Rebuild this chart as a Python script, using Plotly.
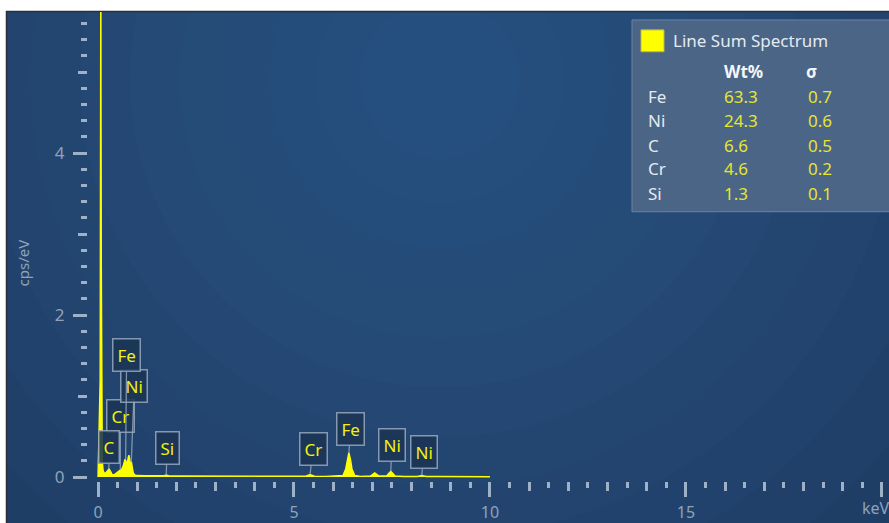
import plotly.graph_objects as go

# ---- spectrum (energy in keV, intensity in cps/eV) ----
energy_kev = [0.00, 0.02, 0.04, 0.055, 0.065, 0.072, 0.078, 0.085, 0.095, 0.11, 0.13, 0.16, 0.20, 0.24,
              0.28, 0.32, 0.36, 0.42, 0.48, 0.53, 0.57, 0.61, 0.65, 0.69, 0.71, 0.74, 0.77,
              0.79, 0.81, 0.83, 0.85, 0.87, 0.90, 0.94, 1.00, 1.20, 1.50, 1.66, 1.74, 1.82,
              2.00, 2.50, 3.00, 3.50, 4.00, 4.50, 5.00, 5.30, 5.41, 5.52, 5.80, 5.95, 6.10,
              6.25, 6.32, 6.36, 6.40, 6.44, 6.48, 6.55, 6.70, 6.95, 7.06, 7.17, 7.36, 7.47,
              7.58, 7.80, 8.15, 8.26, 8.37, 8.70, 9.20, 9.60, 10.00]
intensity_cps = [0.00, 0.45, 0.55, 1.20, 4.30, 6.50, 4.30, 2.60, 0.55, 0.20, 0.08, 0.05, 0.05, 0.08,
                 0.10, 0.07, 0.03, 0.03, 0.05, 0.07, 0.09, 0.10, 0.15, 0.22, 0.20, 0.14, 0.24,
                 0.27, 0.22, 0.12, 0.19, 0.10, 0.05, 0.025, 0.018, 0.015, 0.013, 0.015, 0.025, 0.014,
                 0.013, 0.012, 0.011, 0.010, 0.010, 0.009, 0.009, 0.010, 0.030, 0.010, 0.008, 0.012, 0.008,
                 0.020, 0.10, 0.22, 0.30, 0.22, 0.10, 0.020, 0.008, 0.012, 0.050, 0.012, 0.012, 0.070,
                 0.012, 0.007, 0.007, 0.020, 0.007, 0.006, 0.005, 0.004, 0.003]

# ---- peak labels: element, line energy (keV), intensity at the tip ----
peak_elements = ["Cr", "C", "Ni", "Fe", "Si", "Cr", "Fe", "Ni", "Ni"]
peak_energy = [0.57, 0.277, 0.85, 0.705, 1.74, 5.41, 6.40, 7.47, 8.26]
peak_tip = [0.09, 0.10, 0.19, 0.22, 0.025, 0.030, 0.30, 0.070, 0.020]
# box offsets from the tip, in pixels
label_dx = [0, 0, 3, 1, 1, 3, 2, 1, 2]
label_dy = [-54, -22, -76, -104, -27, -26, -24, -26, -23]

# ---- quantification table ----
table_elements = ["Fe", "Ni", "C", "Cr", "Si"]
table_wt = ["63.3", "24.3", "6.6", "4.6", "1.3"]
table_sigma = ["0.7", "0.6", "0.5", "0.2", "0.1"]

W_FIG, H_FIG = 889, 523
L, R, T, B = 88, 889, 12, 484


def px(x):
    return (x - L) / (R - L)


def py(y):
    return (B - y) / (B - T)


PANEL = "#1e3c63"
TICK = "#9fb1c6"
LABEL = "#8ea3bb"
FONT = "Noto Sans"

fig = go.Figure()

fig.add_trace(go.Scatter(
    x=energy_kev, y=intensity_cps, mode="lines",
    line=dict(color="#ffff00", width=1.4),
    fill="tozeroy", fillcolor="#ffff00", hoverinfo="skip", showlegend=False,
))
# invisible helper traces so the secondary tick axes are drawn
fig.add_trace(go.Scatter(x=[0], y=[0], xaxis="x2", yaxis="y2", mode="markers",
                         marker=dict(opacity=0), hoverinfo="skip", showlegend=False))

shapes = []
# radial glow on the panel
cx, cy = 440, 80
radii = [640, 580, 520, 460, 410, 360, 310, 260, 215, 170, 125, 80]
for r in radii:
    shapes.append(dict(type="circle", xref="paper", yref="paper", layer="below",
                       x0=px(cx - r), x1=px(cx + r), y0=py(cy + r), y1=py(cy - r),
                       fillcolor="rgba(62,116,168,0.055)", line=dict(width=0)))
# white frame outside the panel
shapes.append(dict(type="rect", xref="paper", yref="paper", layer="below",
                   x0=px(-5), x1=px(900), y0=py(11), y1=py(-5),
                   fillcolor="white", line=dict(width=0)))
shapes.append(dict(type="rect", xref="paper", yref="paper", layer="below",
                   x0=px(-5), x1=px(6), y0=py(530), y1=py(-5),
                   fillcolor="white", line=dict(width=0)))
shapes.append(dict(type="line", xref="paper", yref="paper", layer="below",
                   x0=px(6), x1=px(900), y0=py(11.5), y1=py(11.5),
                   line=dict(color="#2b2f36", width=1.5)))
shapes.append(dict(type="line", xref="paper", yref="paper", layer="below",
                   x0=px(6.5), x1=px(6.5), y0=py(11), y1=py(530),
                   line=dict(color="#2b2f36", width=1.5)))
# quantification box
shapes.append(dict(type="rect", xref="paper", yref="paper", layer="below",
                   x0=px(632), x1=px(900), y0=py(213), y1=py(20),
                   fillcolor="#4a6586", line=dict(color="#6a84a2", width=1)))
shapes.append(dict(type="rect", xref="paper", yref="paper", layer="below",
                   x0=px(641), x1=px(664), y0=py(52), y1=py(30),
                   fillcolor="#ffff00", line=dict(color="#b8b850", width=1)))

annotations = []
# peak tags
for el, e, tip, dx, dy in zip(peak_elements, peak_energy, peak_tip, label_dx, label_dy):
    annotations.append(dict(
        x=e, y=tip, xref="x", yref="y", text=el, showarrow=True,
        ax=dx, ay=dy, arrowhead=0, arrowwidth=1.3, arrowcolor="rgba(150,168,190,0.8)",
        standoff=0, startstandoff=0,
        font=dict(family=FONT, size=17, color="#f2f20a"),
        bgcolor="rgba(27,52,84,0.88)", bordercolor="rgba(150,168,190,0.85)",
        borderwidth=1.5, borderpad=4,
    ))

txt = "#e4eaf1"
annotations.append(dict(x=px(671), y=py(41), xref="paper", yref="paper", xanchor="left",
                        yanchor="middle", text="Line Sum Spectrum", showarrow=False,
                        font=dict(family=FONT, size=17, color=txt)))
annotations.append(dict(x=px(722), y=py(72), xref="paper", yref="paper", xanchor="left",
                        yanchor="middle", text="<b>Wt%</b>", showarrow=False,
                        font=dict(family=FONT, size=17, color="#f4f6f9")))
annotations.append(dict(x=px(804), y=py(72), xref="paper", yref="paper", xanchor="left",
                        yanchor="middle", text="<b>σ</b>", showarrow=False,
                        font=dict(family=FONT, size=17, color="#f4f6f9")))
row_y = [97, 121, 146, 170, 195]
for el, wt, sg, yy in zip(table_elements, table_wt, table_sigma, row_y):
    annotations.append(dict(x=px(646), y=py(yy), xref="paper", yref="paper", xanchor="left",
                            yanchor="middle", text=el, showarrow=False,
                            font=dict(family=FONT, size=17, color=txt)))
    annotations.append(dict(x=px(722), y=py(yy), xref="paper", yref="paper", xanchor="left",
                            yanchor="middle", text=wt, showarrow=False,
                            font=dict(family=FONT, size=17, color="#e6e62e")))
    annotations.append(dict(x=px(806), y=py(yy), xref="paper", yref="paper", xanchor="left",
                            yanchor="middle", text=sg, showarrow=False,
                            font=dict(family=FONT, size=17, color="#e6e62e")))

# axis titles
annotations.append(dict(x=px(860), y=py(511), xref="paper", yref="paper", xanchor="left",
                        yanchor="middle", text="keV", showarrow=False,
                        font=dict(family=FONT, size=16, color=LABEL)))
annotations.append(dict(x=px(23), y=py(265), xref="paper", yref="paper", xanchor="center",
                        yanchor="middle", text="cps/eV", textangle=-90, showarrow=False,
                        font=dict(family=FONT, size=15, color=LABEL)))

XR = [-0.255, 20.18]
YR = [-0.049, 5.742]

fig.update_layout(
    width=W_FIG, height=H_FIG,
    margin=dict(l=L, r=W_FIG - R, t=T, b=H_FIG - B),
    paper_bgcolor=PANEL, plot_bgcolor="rgba(0,0,0,0)",
    shapes=shapes, annotations=annotations, showlegend=False,
    xaxis=dict(range=XR, showgrid=False, zeroline=False, showline=False,
               tickmode="linear", tick0=0, dtick=5, ticks="outside", ticklen=15,
               tickwidth=2.5, tickcolor=TICK, ticklabelstandoff=2,
               tickfont=dict(family=FONT, size=16, color=LABEL),
               minor=dict(tickmode="linear", tick0=0, dtick=0.5, ticks="outside",
                          ticklen=6, tickwidth=2.5, tickcolor=TICK, showgrid=False),
               fixedrange=True),
    xaxis2=dict(range=XR, overlaying="x", anchor="y", side="bottom", showgrid=False,
                zeroline=False, showline=False, tickmode="linear", tick0=0, dtick=1,
                ticks="outside", ticklen=9, tickwidth=2.5, tickcolor=TICK,
                showticklabels=False),
    yaxis=dict(range=YR, showgrid=False, zeroline=False, showline=False,
               tickmode="linear", tick0=0, dtick=2, ticks="outside", ticklen=14,
               tickwidth=2.5, tickcolor=TICK, ticklabelstandoff=5,
               tickfont=dict(family=FONT, size=17, color=LABEL),
               minor=dict(tickmode="linear", tick0=0, dtick=0.2, ticks="outside",
                          ticklen=6, tickwidth=2.5, tickcolor=TICK, showgrid=False),
               fixedrange=True),
    yaxis2=dict(range=YR, overlaying="y", anchor="x", side="left", showgrid=False,
                zeroline=False, showline=False, tickmode="linear", tick0=1, dtick=2,
                ticks="outside", ticklen=9, tickwidth=2.5, tickcolor=TICK,
                showticklabels=False),
)

fig.write_html("out.html")
